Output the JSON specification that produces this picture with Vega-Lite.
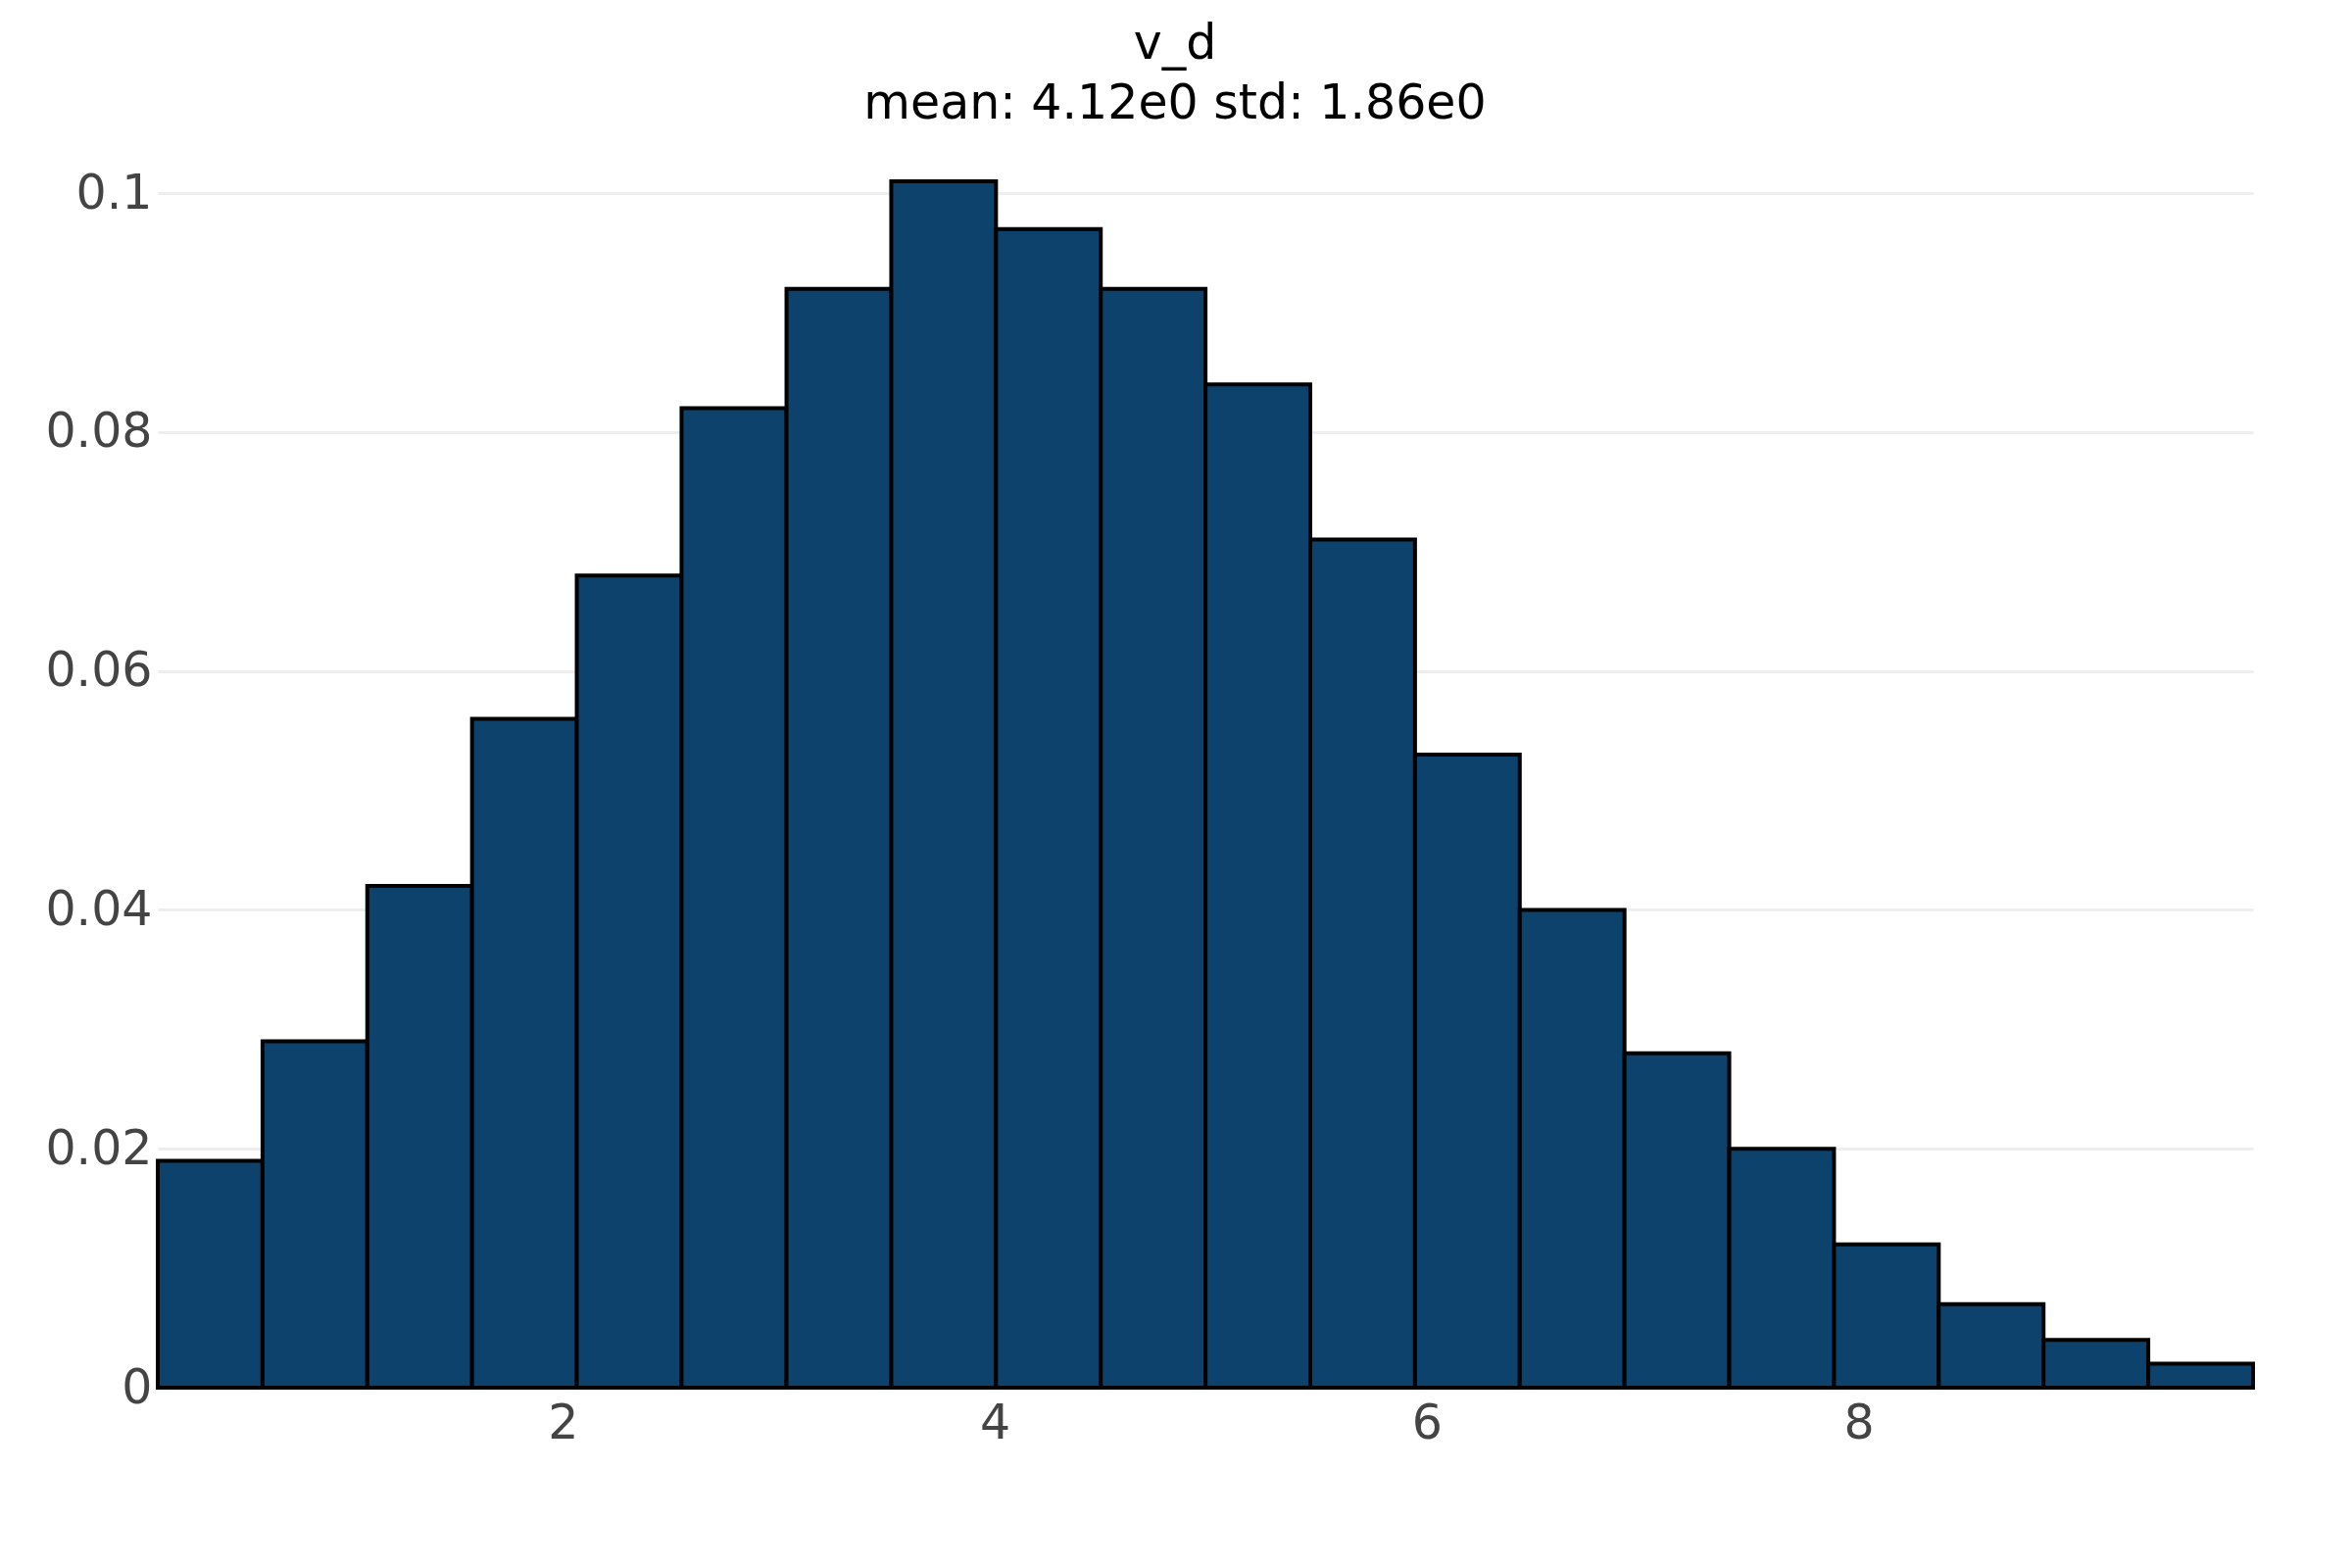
{
  "$schema": "https://vega.github.io/schema/vega-lite/v6.json",
  "width": 2138,
  "height": 1292,
  "autosize": {"type": "none"},
  "padding": {"left": 161, "top": 124, "right": 101, "bottom": 184},
  "background": "white",
  "title": {
    "text": ["v_d", "mean: 4.12e0 std: 1.86e0"],
    "anchor": "middle",
    "dx": -31,
    "dy": 50,
    "offset": 4,
    "baseline": "alphabetic",
    "font": "DejaVu Sans",
    "fontSize": 49,
    "fontWeight": "normal",
    "color": "#000000",
    "lineHeight": 61
  },
  "data": {
    "values": [
      {"bin_start": 0.125, "bin_end": 0.610, "density": 0.019},
      {"bin_start": 0.610, "bin_end": 1.095, "density": 0.029},
      {"bin_start": 1.095, "bin_end": 1.580, "density": 0.042},
      {"bin_start": 1.580, "bin_end": 2.065, "density": 0.056},
      {"bin_start": 2.065, "bin_end": 2.550, "density": 0.068},
      {"bin_start": 2.550, "bin_end": 3.036, "density": 0.082},
      {"bin_start": 3.036, "bin_end": 3.521, "density": 0.092},
      {"bin_start": 3.521, "bin_end": 4.006, "density": 0.101},
      {"bin_start": 4.006, "bin_end": 4.491, "density": 0.097},
      {"bin_start": 4.491, "bin_end": 4.976, "density": 0.092},
      {"bin_start": 4.976, "bin_end": 5.461, "density": 0.084},
      {"bin_start": 5.461, "bin_end": 5.946, "density": 0.071},
      {"bin_start": 5.946, "bin_end": 6.431, "density": 0.053},
      {"bin_start": 6.431, "bin_end": 6.916, "density": 0.040},
      {"bin_start": 6.916, "bin_end": 7.401, "density": 0.028},
      {"bin_start": 7.401, "bin_end": 7.886, "density": 0.020},
      {"bin_start": 7.886, "bin_end": 8.371, "density": 0.012},
      {"bin_start": 8.371, "bin_end": 8.856, "density": 0.007},
      {"bin_start": 8.856, "bin_end": 9.341, "density": 0.004},
      {"bin_start": 9.341, "bin_end": 9.826, "density": 0.002}
    ]
  },
  "mark": {"type": "bar", "fill": "#0d426c", "stroke": "#000000", "strokeWidth": 4},
  "encoding": {
    "x": {
      "field": "bin_start",
      "type": "quantitative",
      "scale": {"domain": [0.125, 9.826], "nice": false, "zero": false},
      "axis": {
        "title": null,
        "values": [2, 4, 6, 8],
        "grid": false,
        "ticks": false,
        "domain": true,
        "domainColor": "#444444",
        "domainWidth": 3,
        "labelFont": "DejaVu Sans",
        "labelFontSize": 49,
        "labelColor": "#444444",
        "labelPadding": 12,
        "labelFlush": false,
        "format": "d"
      }
    },
    "x2": {"field": "bin_end"},
    "y": {
      "field": "density",
      "type": "quantitative",
      "scale": {"domain": [0, 0.106], "nice": false},
      "axis": {
        "title": null,
        "values": [0, 0.02, 0.04, 0.06, 0.08, 0.1],
        "grid": true,
        "gridColor": "#eeeeee",
        "gridWidth": 3,
        "ticks": false,
        "domain": false,
        "labelFont": "DejaVu Sans",
        "labelFontSize": 49,
        "labelColor": "#444444",
        "labelPadding": 6,
        "labelFlush": false,
        "format": "~g"
      }
    },
    "y2": {"datum": 0}
  },
  "config": {"view": {"stroke": null}}
}
